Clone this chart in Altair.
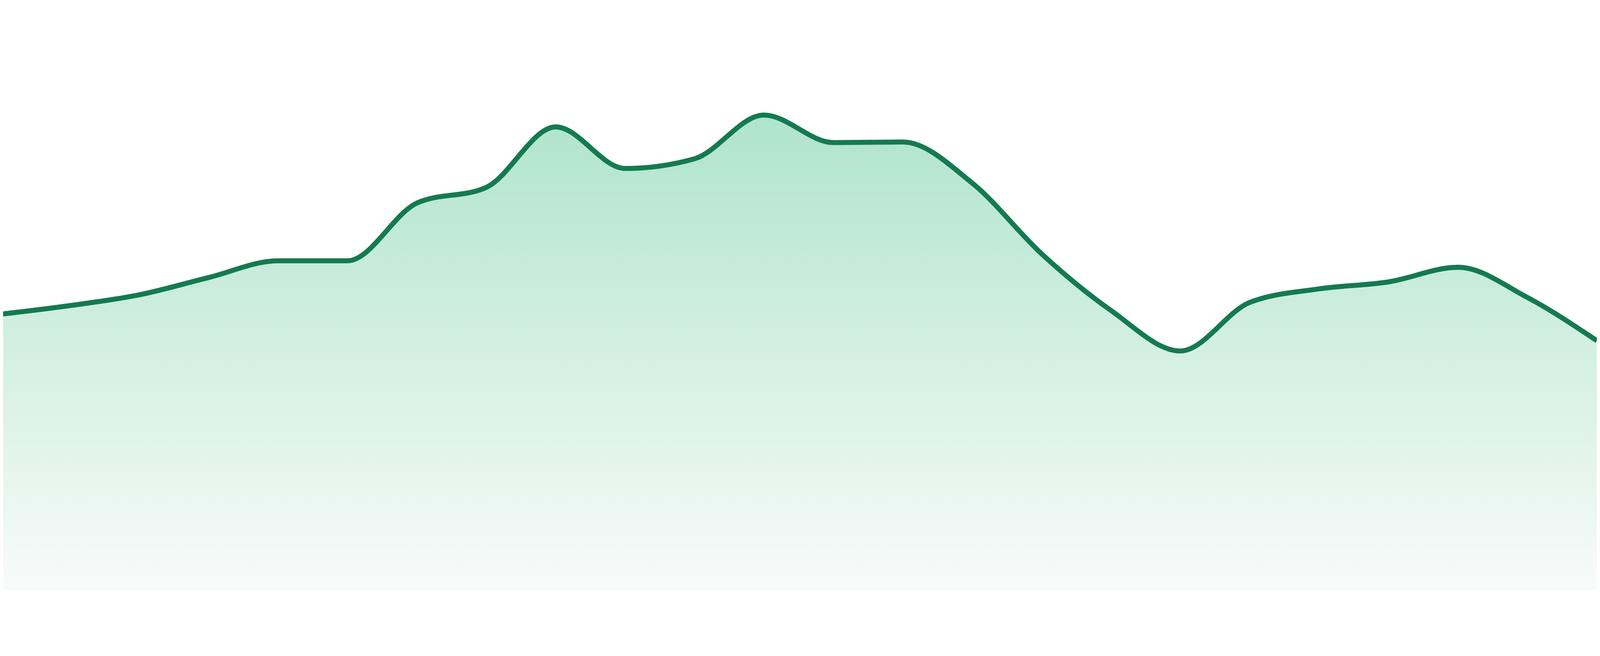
import altair as alt
import pandas as pd

# Data (index of each sample, value on a 0-100 scale)
points = [0, 1, 2, 3, 4, 5, 6, 7, 8, 9, 10, 11, 12, 13, 14, 15, 16, 17, 18, 19, 20, 21, 22, 23]
values = [51.1, 52.7, 54.7, 57.9, 61.0, 61.0, 71.7, 74.6, 85.8, 78.1, 79.9, 88.0,
          82.9, 83.0, 75.4, 62.3, 51.8, 44.3, 53.3, 55.8, 57.1, 59.8, 54.2, 46.2]

df = pd.DataFrame({"x": points, "v": values})

line_color = "#147a50"
fill_top = "#afe4cc"
fill_bottom = "#f8fbfa"

# the page has an 8px margin; start the domain slightly past 0 so the samples
# land where they are in the reference
x_enc = alt.X("x:Q", axis=None,
              scale=alt.Scale(domain=[0.0383, 23], nice=False, zero=False))
y_enc = alt.Y("v:Q", axis=None, scale=alt.Scale(domain=[0, 100], nice=False))

area = alt.Chart(df).mark_area(
    interpolate="monotone",
    clip=True,
    fill=alt.Gradient(
        gradient="linear",
        stops=[
            alt.GradientStop(color=fill_top, offset=0),
            alt.GradientStop(color=fill_bottom, offset=1),
        ],
        x1=1, x2=1, y1=0, y2=1,
    ),
).encode(x=x_enc, y=y_enc)

line = alt.Chart(df).mark_line(
    interpolate="monotone",
    clip=True,
    color=line_color,
    strokeWidth=15,
).encode(x=x_enc, y=y_enc)

chart = alt.layer(area, line).properties(
    width=4792, height=1624, padding=0
).configure_view(stroke=None)

chart.save("out.html", embed_options={"renderer": "svg", "actions": False})
